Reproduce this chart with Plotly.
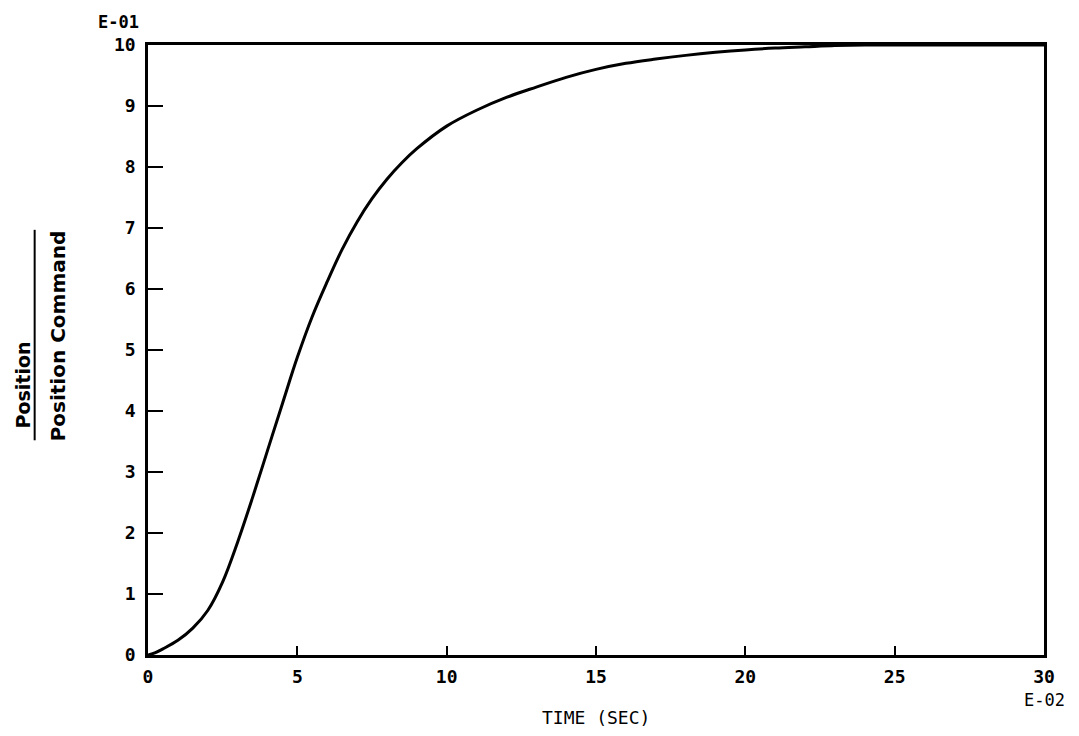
import plotly.graph_objects as go

# Data (time in E-02 sec, response in E-01 units)
time_vals = [0, 0.25, 0.5, 1, 1.5, 2, 2.5, 3, 3.5, 4, 4.5, 5, 5.5, 6, 6.5, 7, 7.5, 8,
             8.5, 9, 10, 11, 12, 13, 14, 15, 16, 17, 18, 19, 20, 21, 22, 23, 24, 25,
             26, 28, 30]
response = [0, 0.04, 0.1, 0.24, 0.44, 0.73, 1.2, 1.85, 2.58, 3.35, 4.12, 4.88, 5.55,
            6.12, 6.65, 7.1, 7.48, 7.8, 8.07, 8.3, 8.67, 8.93, 9.14, 9.31, 9.47, 9.6,
            9.7, 9.77, 9.83, 9.88, 9.92, 9.95, 9.97, 9.99, 10.0, 10.0, 10.0, 10.0, 10.0]

x_ticks = [0, 5, 10, 15, 20, 25, 30]
x_tick_labels = ["0", "5", "10", "15", "20", "25", "30"]
y_ticks = [0, 1, 2, 3, 4, 5, 6, 7, 8, 9, 10]
y_tick_labels = ["0", "1", "2", "3", "4", "5", "6", "7", "8", "9", "10"]

FONT = "DejaVu Sans Mono"

fig = go.Figure()
fig.add_trace(go.Scatter(x=time_vals, y=response, mode="lines",
                         line=dict(color="black", width=3, shape="spline", smoothing=1.0),
                         showlegend=False, hoverinfo="skip"))

fig.update_layout(
    width=1063, height=720, autosize=False,
    margin=dict(l=140, r=27, t=37, b=73),
    paper_bgcolor="white", plot_bgcolor="white",
    showlegend=False,
    xaxis=dict(range=[0, 30], tickvals=x_ticks, ticktext=x_tick_labels,
               ticks="inside", ticklen=9, tickwidth=2, tickcolor="black",
               showline=True, linecolor="black", linewidth=2.5, mirror=True,
               showgrid=False, zeroline=False, ticklabelstandoff=4,
               tickfont=dict(family=FONT, size=18, color="black", weight="bold")),
    yaxis=dict(range=[0, 10], tickvals=y_ticks, ticktext=y_tick_labels,
               ticks="inside", ticklen=15, tickwidth=2, tickcolor="black",
               showline=True, linecolor="black", linewidth=2.5, mirror=True,
               showgrid=False, zeroline=False, ticklabelstandoff=6,
               tickfont=dict(family=FONT, size=18, color="black", weight="bold")),
)

# exponent labels and axis titles
fig.add_annotation(text="E-01", xref="paper", yref="paper", x=-0.033, y=1.0,
                   yshift=23, showarrow=False, xanchor="center", yanchor="middle",
                   font=dict(family=FONT, size=17, color="black", weight="bold"))
fig.add_annotation(text="E-02", xref="paper", yref="paper", x=1.0, y=0,
                   yshift=-45, showarrow=False, xanchor="center", yanchor="middle",
                   font=dict(family=FONT, size=17, color="black"))
fig.add_annotation(text="TIME (SEC)", xref="paper", yref="paper", x=0.5, y=0,
                   yshift=-62, showarrow=False, xanchor="center", yanchor="middle",
                   font=dict(family=FONT, size=18, color="black"))

# fraction-style y title
fig.add_annotation(text="Position", xref="paper", yref="paper", x=-0.139, y=0.368,
                   textangle=-90, showarrow=False, xanchor="center", yanchor="bottom",
                   font=dict(family="DejaVu Sans", size=19, color="black", weight="bold"))
fig.add_annotation(text="Position Command", xref="paper", yref="paper", x=-0.1,
                   y=0.523, textangle=-90, showarrow=False, xanchor="center",
                   yanchor="middle",
                   font=dict(family="DejaVu Sans", size=20, color="black", weight="bold"))
fig.add_shape(type="line", xref="paper", yref="paper", x0=-0.1265, x1=-0.1265,
              y0=0.352, y1=0.697, line=dict(color="black", width=2))

fig.write_html("out.html")
